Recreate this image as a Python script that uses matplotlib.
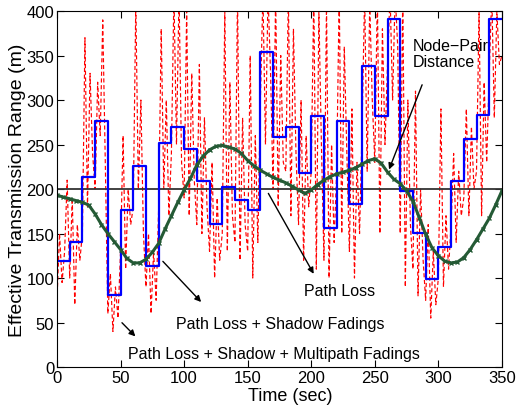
import numpy as np
import matplotlib
matplotlib.use('Agg')
import matplotlib.pyplot as plt

plt.rcParams['font.family'] = ['Liberation Sans', 'DejaVu Sans']

# shadow fading: one value per 10 s block
shadow_t = np.arange(0, 351, 10)
shadow_v = [119, 141, 213, 276, 81, 176, 226, 114, 252, 270,
            245, 209, 161, 202, 188, 176, 354, 258, 270, 218,
            282, 156, 276, 183, 338, 282, 391, 198, 151, 99,
            135, 209, 256, 283, 391, 391]

# multipath fading, sampled every 2 s
multi_t = np.arange(0, 351, 2)
multi_v = [75, 150, 95, 130, 210,
           100, 190, 70, 160, 120,
           150, 370, 180, 330, 240,
           200, 320, 260, 390, 230,
           60, 105, 40, 90, 55,
           130, 260, 110, 200, 160,
           180, 410, 200, 300, 150,
           90, 150, 60, 130, 75,
           180, 380, 200, 300, 170,
           240, 420, 250, 420, 230,
           190, 400, 170, 330, 210,
           160, 340, 150, 280, 180,
           130, 230, 100, 190, 120,
           150, 400, 130, 320, 170,
           140, 420, 120, 280, 160,
           130, 350, 100, 260, 140,
           300, 420, 250, 420, 330,
           200, 420, 180, 350, 230,
           220, 420, 170, 380, 240,
           160, 300, 120, 260, 180,
           220, 420, 110, 400, 250,
           120, 410, 100, 250, 140,
           220, 420, 150, 360, 240,
           130, 290, 100, 230, 150,
           270, 420, 220, 410, 300,
           230, 420, 150, 380, 250,
           340, 420, 300, 420, 360,
           150, 420, 90, 300, 160,
           110, 310, 80, 200, 120,
           75, 160, 55, 130, 70,
           100, 290, 90, 170, 110,
           160, 240, 140, 220, 170,
           190, 290, 170, 270, 200,
           220, 400, 170, 320, 230,
           330, 420, 280, 400, 340,
           350]

# node-pair distance, every 5 s
dist_t = np.arange(0, 351, 5)
dist_v = [193, 191, 189, 187, 185, 182, 172, 160, 150, 141,
          132, 122, 117, 117, 121, 129, 139, 155, 170, 185,
          199, 212, 227, 237, 244, 248, 249, 247, 245, 240,
          232, 226, 221, 217, 213, 210, 207, 203, 199, 195,
          199, 205, 210, 214, 217, 219, 221, 224, 228, 232,
          234, 229, 219, 211, 206, 198, 186, 168, 149, 134,
          125, 119, 117, 118, 123, 132, 143, 155, 167, 182,
          198]

path_loss = 200


def main():
    fig = plt.figure(figsize=(5.18, 4.14), dpi=100)
    ax = fig.add_axes([0.110, 0.111, 0.859, 0.860])

    ax.plot(multi_t, multi_v, color='red', lw=0.85, ls=(0, (3.5, 2.2)))
    ax.axhline(path_loss, color='#333333', lw=1.3)
    ax.step(shadow_t, shadow_v, where='post', color='blue', lw=1.6)
    ax.plot(dist_t, dist_v, color='#245a35', lw=2.2, marker='x', ms=3.5, mew=1)

    ax.set_xlim(0, 350)
    ax.set_ylim(0, 400)
    ax.set_xticks(np.arange(0, 351, 50))
    ax.set_yticks(np.arange(0, 401, 50))
    ax.tick_params(direction='in', top=True, right=True, length=5, labelsize=12, pad=2)
    ax.set_xlabel('Time (sec)', fontsize=13, labelpad=0)
    ax.xaxis.set_label_coords(0.525, -0.055)
    ax.set_ylabel('Effective Transmission Range (m)', fontsize=14, labelpad=0)

    arrow = dict(arrowstyle='-|>', color='black', lw=1, mutation_scale=9)
    ax.annotate('', xy=(260.4, 219), xytext=(288, 320), arrowprops=arrow)
    ax.text(280, 352, 'Node\u2212Pair\nDistance', fontsize=11.5, ha='left', va='center',
            linespacing=1.1)

    ax.annotate('', xy=(203, 102), xytext=(165.2, 197.8), arrowprops=arrow)
    ax.text(222, 86.5, 'Path Loss', fontsize=11.5, ha='center', va='center')

    ax.annotate('', xy=(114.9, 70.8), xytext=(81.8, 121), arrowprops=arrow)
    ax.text(176, 49.4, 'Path Loss + Shadow Fadings', fontsize=11.5, ha='center', va='center')

    ax.annotate('', xy=(63.2, 32.2), xytext=(49.6, 52), arrowprops=arrow)
    ax.text(171, 15.7, 'Path Loss + Shadow + Multipath Fadings', fontsize=11.5,
            ha='center', va='center')

    fig.savefig('out.png', dpi=100)


if __name__ == "__main__":
    main()
